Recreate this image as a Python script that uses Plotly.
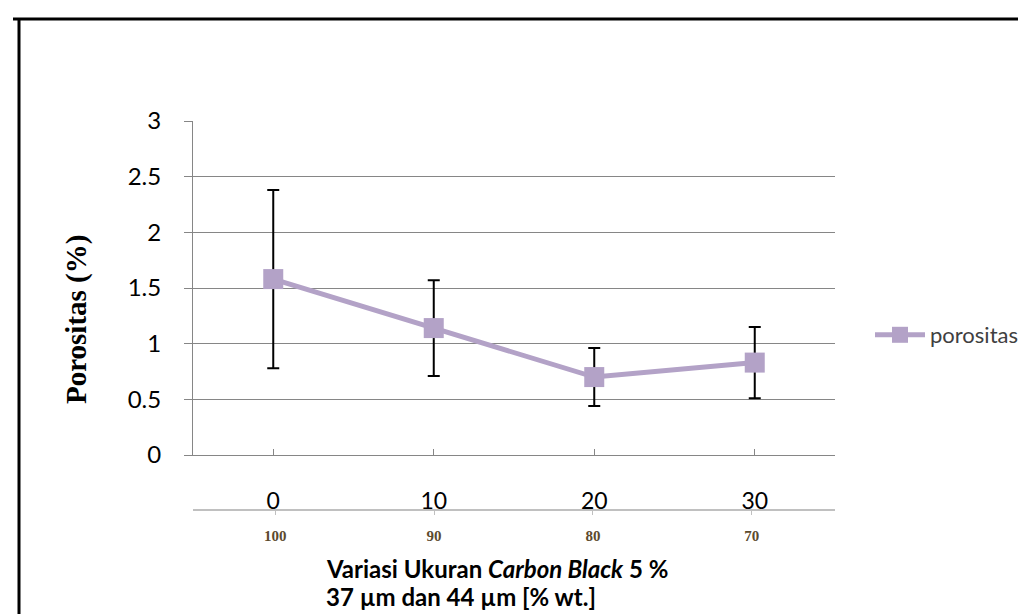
import plotly.graph_objects as go

# ---- data ----
cat_pos = [0, 1, 2, 3]
cat_top_labels = ["0", "10", "20", "30"]
cat_bottom_labels = ["100", "90", "80", "70"]
porositas = [1.58, 1.14, 0.70, 0.83]
porositas_err = [0.80, 0.43, 0.26, 0.32]
series_name = "porositas"
title_line1 = "<b>Variasi Ukuran <i>Carbon Black</i> 5 %</b>"
title_line2 = "<b>37 µm dan 44 µm [% wt.]</b>"

W, H = 1026, 614
def px(x):
    return x / W
def py(y):
    return 1 - y / H

LINE_COL = "#b3a2c7"
GRID_COL = "#868686"
SANS = "Lato"
SERIF = "Liberation Serif"

fig = go.Figure()

# error bars (drawn beneath markers)
fig.add_trace(go.Scatter(
    x=cat_pos, y=porositas, mode="markers",
    marker=dict(size=1, opacity=0),
    error_y=dict(type="data", array=porositas_err, visible=True,
                 color="black", thickness=2, width=6),
    showlegend=False, hoverinfo="skip",
))
# main series
fig.add_trace(go.Scatter(
    x=cat_pos, y=porositas, mode="lines+markers", name=series_name,
    line=dict(color=LINE_COL, width=5),
    marker=dict(symbol="square", size=20, color=LINE_COL),
))
# helper trace for secondary category axis
fig.add_trace(go.Scatter(
    x=cat_pos, y=porositas, xaxis="x2", mode="markers",
    marker=dict(size=1, opacity=0), showlegend=False, hoverinfo="skip",
))

fig.update_layout(
    width=W, height=H,
    margin=dict(l=0, r=0, t=0, b=0),
    paper_bgcolor="white", plot_bgcolor="white",
    font=dict(family=SANS, size=22, color="black"),
    xaxis=dict(
        domain=[px(185), px(827)], range=[-0.5, 3.5],
        showline=True, linecolor=GRID_COL, linewidth=1,
        showgrid=False, zeroline=False,
        ticks="inside", ticklen=6, tickcolor=GRID_COL,
        tickvals=cat_pos + [3.5], ticktext=cat_top_labels + [""],
        tickfont=dict(family=SANS, size=23, color="black"),
        ticklabelstandoff=25, automargin=False,
    ),
    xaxis2=dict(
        overlaying="x", anchor="free", position=py(502), side="bottom",
        domain=[px(182), px(831)],
        range=[-0.5 - 3 / 160.5, 3.5 + 4 / 160.5],
        showline=True, linecolor="#c0c0c0", linewidth=2,
        showgrid=False, zeroline=False,
        ticks="outside", ticklen=4, tickcolor="#c0c0c0",
        tickvals=cat_pos, ticktext=["<b>%s</b>" % t for t in cat_bottom_labels],
        tickfont=dict(family=SERIF, size=15, color="#5c4a2e"),
        ticklabelstandoff=8, automargin=False,
    ),
    yaxis=dict(
        domain=[py(447), py(113)], range=[0, 3], dtick=0.5,
        showline=True, linecolor=GRID_COL, linewidth=1,
        showgrid=True, gridcolor=GRID_COL, gridwidth=1, zeroline=False,
        ticks="outside", ticklen=8, tickcolor=GRID_COL,
        tickfont=dict(family=SANS, size=24, color="black"),
        ticklabelstandoff=18, automargin=False,
    ),
    legend=dict(
        x=px(862), y=py(327), xanchor="left", yanchor="middle",
        itemwidth=50,
        bgcolor="rgba(0,0,0,0)", font=dict(family=SANS, size=22, color="#404040"),
    ),
    annotations=[
        dict(x=px(316), y=py(560), xref="paper", yref="paper",
             xanchor="left", yanchor="middle", align="left", showarrow=False,
             text=title_line1, font=dict(family=SANS, size=24, color="black")),
        dict(x=px(316), y=py(588), xref="paper", yref="paper",
             xanchor="left", yanchor="middle", align="left", showarrow=False,
             text=title_line2, font=dict(family=SANS, size=24, color="black")),
        dict(x=px(68), y=py(312), xref="paper", yref="paper",
             xanchor="center", yanchor="middle", showarrow=False, textangle=-90,
             text="<b>Porositas (%)</b>",
             font=dict(family=SERIF, size=29, color="black")),
    ],
    shapes=[
        dict(type="line", xref="paper", yref="paper", x0=px(5), x1=1, y0=py(11), y1=py(11),
             line=dict(color="black", width=3)),
        dict(type="line", xref="paper", yref="paper", x0=px(11), x1=px(11), y0=py(10), y1=0,
             line=dict(color="black", width=3)),
    ],
)

fig.write_html("out.html")
